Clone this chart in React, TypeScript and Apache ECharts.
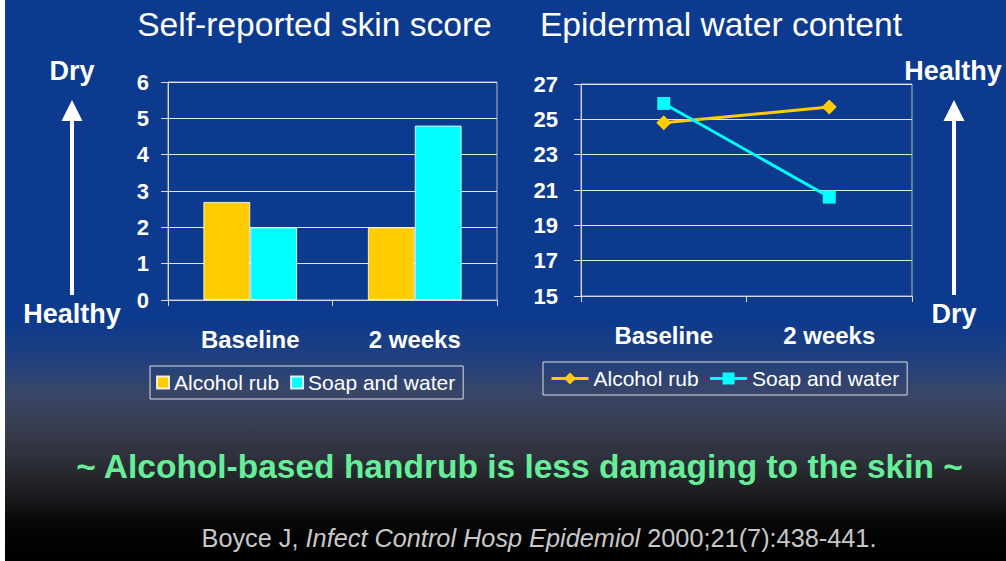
import React, { useEffect, useRef } from 'react';
import * as echarts from 'echarts';

const categories = ['Baseline', '2 weeks'];
const seriesNames = ['Alcohol rub', 'Soap and water'];
const skinScoreAlcohol = [2.7, 2.0];
const skinScoreSoap = [2.0, 4.8];
const waterAlcohol = [24.8, 25.7];
const waterSoap = [25.9, 20.6];
const skinAxis = { min: 0, max: 6, interval: 1 };
const waterAxis = { min: 15, max: 27, interval: 2 };
const titles = ['Self-reported skin score', 'Epidermal water content'];
const leftScale = ['Dry', 'Healthy'];
const rightScale = ['Healthy', 'Dry'];
const conclusion = '~ Alcohol-based handrub is less damaging to the skin ~';
const citation = ['Boyce J, ', 'Infect Control Hosp Epidemiol', ' 2000;21(7):438-441.'];

const FONT = '"Liberation Sans", Arial, sans-serif';
const YELLOW = '#FFCC00';
const CYAN = '#00FFFF';
const LINE_SUFFIX = ' (line)';

export default function App() {
  const ref = useRef<HTMLDivElement>(null);

  useEffect(() => {
    if (!ref.current) return;
    const chart = echarts.init(ref.current, undefined, { renderer: 'svg' });

    const axisLine = { show: true, lineStyle: { color: '#d8d8d8', width: 1 } };
    const axisTick = { show: true, length: 6, lineStyle: { color: '#d8d8d8', width: 1 } };
    const splitLine = { show: true, lineStyle: { color: '#e4e4e4', width: 1 } };
    const catLabel = { color: '#ffffff', fontSize: 24, fontWeight: 'bold', fontFamily: FONT, margin: 27 };
    const valLabel = { color: '#ffffff', fontSize: 22, fontWeight: 'bold', fontFamily: FONT };

    const bg = new echarts.graphic.LinearGradient(0, 0, 0, 1, [
      { offset: 0, color: '#0B3A8E' },
      { offset: 0.57, color: '#0B3A8E' },
      { offset: 0.64, color: '#22407E' },
      { offset: 0.70, color: '#384668' },
      { offset: 0.76, color: '#383D50' },
      { offset: 0.82, color: '#2E3039' },
      { offset: 0.88, color: '#1C1D20' },
      { offset: 0.93, color: '#060607' },
      { offset: 1, color: '#000000' },
    ]);

    const arrow = (cx: number) => [
      { type: 'rect', shape: { x: cx - 2, y: 119, width: 4, height: 176 }, style: { fill: '#ffffff' } },
      { type: 'polygon', shape: { points: [[cx - 10.5, 121], [cx, 100], [cx + 10.5, 121]] }, style: { fill: '#ffffff' } },
    ];

    const sideText = (text: string, x: number, y: number) => ({
      type: 'text', x, y,
      style: { text, fill: '#ffffff', font: `bold 27px ${FONT}`, textAlign: 'center', textVerticalAlign: 'middle' },
    });

    const option: any = {
      animation: false,
      textStyle: { fontFamily: FONT },
      grid: [
        { left: 168, top: 82, width: 329, height: 218, show: true, borderColor: '#b8b8b8', borderWidth: 1, backgroundColor: 'transparent' },
        { left: 581, top: 84, width: 331, height: 212, show: true, borderColor: '#b8b8b8', borderWidth: 1, backgroundColor: 'transparent' },
      ],
      xAxis: [
        { type: 'category', gridIndex: 0, data: categories, axisLine, axisTick, axisLabel: catLabel },
        { type: 'category', gridIndex: 1, data: categories, axisLine, axisTick, axisLabel: catLabel },
      ],
      yAxis: [
        { type: 'value', gridIndex: 0, ...skinAxis, axisLine, axisTick: { ...axisTick, length: 7 }, splitLine, axisLabel: { ...valLabel, margin: 19 } },
        { type: 'value', gridIndex: 1, ...waterAxis, axisLine, axisTick: { ...axisTick, length: 7 }, splitLine, axisLabel: { ...valLabel, margin: 23 } },
      ],
      legend: [
        {
          data: seriesNames, left: 150, top: 366, orient: 'horizontal',
          icon: 'rect', itemWidth: 12, itemHeight: 12, itemGap: 11,
          padding: [6, 8, 6, 6], borderColor: '#dddddd', borderWidth: 1,
          textStyle: { color: '#ffffff', fontSize: 21, fontFamily: FONT },
          selectedMode: false,
        },
        {
          data: seriesNames.map((n) => n + LINE_SUFFIX), left: 543, top: 362, orient: 'horizontal',
          itemWidth: 37, itemHeight: 15, itemGap: 10,
          padding: [6, 8, 6, 7], borderColor: '#dddddd', borderWidth: 1,
          formatter: (n: string) => n.replace(LINE_SUFFIX, ''),
          textStyle: { color: '#ffffff', fontSize: 21, fontFamily: FONT },
          lineStyle: { width: 3 },
          selectedMode: false,
        },
      ],
      series: [
        {
          type: 'bar', name: seriesNames[0], xAxisIndex: 0, yAxisIndex: 0, data: skinScoreAlcohol,
          barGap: '0%', barCategoryGap: '43%',
          itemStyle: { color: YELLOW, borderColor: 'rgba(255,255,255,0.85)', borderWidth: 1 },
        },
        {
          type: 'bar', name: seriesNames[1], xAxisIndex: 0, yAxisIndex: 0, data: skinScoreSoap,
          barGap: '0%', barCategoryGap: '43%',
          itemStyle: { color: CYAN, borderColor: 'rgba(255,255,255,0.85)', borderWidth: 1 },
        },
        {
          type: 'line', name: seriesNames[0] + LINE_SUFFIX, xAxisIndex: 1, yAxisIndex: 1, data: waterAlcohol,
          symbol: 'diamond', symbolSize: 15, lineStyle: { color: YELLOW, width: 3 }, itemStyle: { color: YELLOW },
        },
        {
          type: 'line', name: seriesNames[1] + LINE_SUFFIX, xAxisIndex: 1, yAxisIndex: 1, data: waterSoap,
          symbol: 'rect', symbolSize: 13, lineStyle: { color: CYAN, width: 3 }, itemStyle: { color: CYAN },
        },
      ],
      graphic: [
        { type: 'rect', z: -100, silent: true, shape: { x: 5, y: 0, width: 1001, height: 561 }, style: { fill: bg } },
        { type: 'text', x: 314.5, y: 24, style: { text: titles[0], fill: '#ffffff', font: `33.6px ${FONT}`, textAlign: 'center', textVerticalAlign: 'middle' } },
        { type: 'text', x: 721, y: 24, style: { text: titles[1], fill: '#ffffff', font: `33.6px ${FONT}`, textAlign: 'center', textVerticalAlign: 'middle' } },
        sideText(leftScale[0], 72, 71),
        sideText(leftScale[1], 72, 314),
        sideText(rightScale[0], 953, 71),
        sideText(rightScale[1], 954, 314),
        ...arrow(72),
        ...arrow(954),
        { type: 'text', x: 519.5, y: 466, style: { text: conclusion, fill: '#66EE99', font: `bold 33.5px ${FONT}`, textAlign: 'center', textVerticalAlign: 'middle' } },
        {
          type: 'text', x: 539, y: 538,
          style: {
            text: `{n|${citation[0]}}{i|${citation[1]}}{n|${citation[2]}}`,
            textAlign: 'center', textVerticalAlign: 'middle',
            rich: {
              n: { fill: '#C8C8C8', fontSize: 25.3, fontFamily: FONT },
              i: { fill: '#C8C8C8', fontSize: 25.3, fontFamily: FONT, fontStyle: 'italic' },
            },
          },
        },
      ],
    };

    chart.setOption(option);
    return () => chart.dispose();
  }, []);

  return (
    <div
      ref={ref}
      style={{ position: 'fixed', left: 0, top: 0, width: 1006, height: 561, background: '#ffffff' }}
    />
  );
}
